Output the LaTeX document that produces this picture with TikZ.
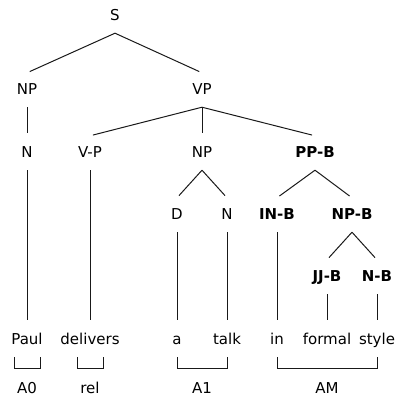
\documentclass[tikz,border=0pt]{standalone}
\usepackage{fontspec}
\setmainfont{DejaVu Sans}
\usetikzlibrary{calc}
\begin{document}
\begin{tikzpicture}[x=1pt,y=-1pt,
  lab/.style={inner sep=0pt, minimum height=34pt, text height=11pt, text depth=3pt, font=\fontsize{15}{17}\selectfont},
  blab/.style={lab, font=\fontsize{15}{17}\selectfont\bfseries},
  edge/.style={draw=black!90, line width=1pt, shorten >=3pt},
  brk/.style={draw=black!90, line width=1pt}]
\useasboundingbox (0,0) rectangle (395,397);
% tree nodes
\node[lab] (S) at (115,16) {S};
\node[lab] (NPa) at (27,90) {NP};
\node[lab] (VP) at (202,90) {VP};
\node[lab] (Na) at (27,153) {N};
\node[lab] (VdP) at (90,153) {V-P};
\node[lab] (NPb) at (202,153) {NP};
\node[blab] (PPB) at (315,153) {PP-B};
\node[lab] (D) at (177,215) {D};
\node[lab] (Nb) at (227,215) {N};
\node[blab] (INB) at (277,215) {IN-B};
\node[blab] (NPB) at (352,215) {NP-B};
\node[blab] (JJB) at (327,277) {JJ-B};
\node[blab] (NB) at (377,277) {N-B};
% leaves
\node[lab] (Paul) at (27,340) {Paul};
\node[lab] (delivers) at (90,340) {delivers};
\node[lab] (a) at (177,340) {a};
\node[lab] (talk) at (227,340) {talk};
\node[lab] (in) at (277,340) {in};
\node[lab] (formal) at (327,340) {formal};
\node[lab] (style) at (377,340) {style};
% role labels
\node[lab] (A0) at (27,389) {A0};
\node[lab] (rel) at (90,389) {rel};
\node[lab] (A1) at (202,389) {A1};
\node[lab] (AM) at (327,389) {AM};
% tree edges
\draw[edge] (S.south) -- (NPa.north);
\draw[edge] (S.south) -- (VP.north);
\draw[edge] (NPa.south) -- (Na.north);
\draw[edge] (VP.south) -- (VdP.north);
\draw[edge] (VP.south) -- (NPb.north);
\draw[edge] (VP.south) -- (PPB.north);
\draw[edge] (NPb.south) -- (D.north);
\draw[edge] (NPb.south) -- (Nb.north);
\draw[edge] (PPB.south) -- (INB.north);
\draw[edge] (PPB.south) -- (NPB.north);
\draw[edge] (NPB.south) -- (JJB.north);
\draw[edge] (NPB.south) -- (NB.north);
\draw[edge] (Na.south) -- (Paul.north);
\draw[edge] (VdP.south) -- (delivers.north);
\draw[edge] (D.south) -- (a.north);
\draw[edge] (Nb.south) -- (talk.north);
\draw[edge] (INB.south) -- (in.north);
\draw[edge] (JJB.south) -- (formal.north);
\draw[edge] (NB.south) -- (style.north);
% brackets
\draw[brk] ($(Paul.south)+(-13,0)$) -- ++(0,11) -- ($(Paul.south)+(13,11)$) -- ++(0,-11);
\coordinate (bA0) at ($(Paul.south)+(0,11)$);
\draw[edge] (bA0) -- (A0.north);
\draw[brk] ($(delivers.south)+(-13,0)$) -- ++(0,11) -- ($(delivers.south)+(13,11)$) -- ++(0,-11);
\coordinate (brel) at ($(delivers.south)+(0,11)$);
\draw[edge] (brel) -- (rel.north);
\draw[brk] (a.south) -- ++(0,11) -- ($(talk.south)+(0,11)$) -- (talk.south);
\coordinate (bA1) at ($($(a.south)!0.5!(talk.south)$)+(0,11)$);
\draw[edge] (bA1) -- (A1.north);
\draw[brk] (in.south) -- ++(0,11) -- ($(style.south)+(0,11)$) -- (style.south);
\coordinate (bAM) at ($($(in.south)!0.5!(style.south)$)+(0,11)$);
\draw[edge] (bAM) -- (AM.north);
\end{tikzpicture}
\end{document}
